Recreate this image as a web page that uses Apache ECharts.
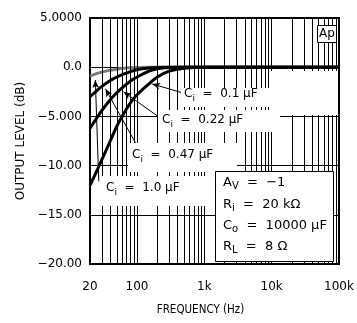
<!DOCTYPE html>
<html>
<head>
<meta charset="utf-8">
<script src="https://cdn.jsdelivr.net/npm/echarts@6/dist/echarts.min.js"></script>
<style>
  html, body { margin: 0; padding: 0; background: #fff; }
  #chart { width: 357px; height: 323px; }
</style>
</head>
<body>
<div id="chart"></div>
<script>
// frequency points (Hz) the curves were read at
const freq = [20, 25, 30, 40, 50, 60, 80, 100, 150, 200, 300, 500, 1000, 100000];
// output level (dB) for each input capacitor
const ci10 = [-0.9, -0.65, -0.5, -0.3, -0.2, -0.12, -0.05, -0.02, 0, 0, 0, 0, 0, 0];
const ci047 = [-3.0, -2.4, -1.95, -1.35, -1.0, -0.75, -0.45, -0.25, -0.08, -0.02, 0, 0, 0, 0];
const ci022 = [-6.2, -5.2, -4.4, -3.3, -2.6, -2.1, -1.4, -1.0, -0.4, -0.15, -0.03, 0, 0, 0];
const ci01 = [-12.0, -10.6, -9.4, -7.5, -6.0, -5.0, -3.6, -2.8, -1.7, -1.0, -0.4, -0.1, 0, 0];

// tick labels
const yLabels = { "5": "5.0000", "0": "0.0", "-5": "\u22125.000", "-10": "\u221210.00", "-15": "\u221215.00", "-20": "\u221220.00" };
const xLabels = { "20": "20", "100": "100", "1000": "1k", "10000": "10k", "100000": "100k" };
// vertical grid lines of the log paper
const gridFreqs = [30, 40, 50, 60, 70, 80, 90, 100, 200, 300, 400, 500, 600, 700, 800, 900, 1000,
  2000, 3000, 4000, 5000, 6000, 7000, 8000, 9000, 10000,
  20000, 30000, 40000, 50000, 60000, 70000, 80000, 90000];

const FONT = "DejaVu Sans";
const NARROW = "'DejaVu Sans Condensed', 'Liberation Sans Narrow', 'DejaVu Sans'";

const chart = echarts.init(document.getElementById("chart"));

function curve(name, vals, color) {
  return {
    name: name,
    type: "line",
    data: freq.map((f, i) => [f, vals[i]]),
    smooth: 0.25,
    showSymbol: false,
    silent: true,
    z: 3,
    lineStyle: { color: color, width: 3 }
  };
}

// arrows from the labels to the curves [from, to] in data units
const arrows = [
  [[470, -2.6], [168, -1.7]],
  [[225, -5.2], [63, -2.5]],
  [[108, -8.4], [34, -2.2]],
  [[27, -11.6], [24, -1.3]]
];

function rich(size) {
  return {
    b: { fontFamily: FONT, fontSize: size, color: "#000", lineHeight: 18 },
    s: { fontFamily: FONT, fontSize: size - 3, color: "#000", lineHeight: 8, verticalAlign: "bottom" }
  };
}

function label(x, y, txt, size) {
  return {
    type: "text",
    left: x,
    top: y,
    z: 60,
    style: { text: txt, rich: rich(size || 12), fill: "#000" }
  };
}

function whiteBox(x, y, w, h) {
  return {
    type: "rect",
    z: 50,
    shape: { x: x, y: y, width: w, height: h },
    style: { fill: "#fff" }
  };
}

chart.setOption({
  animation: false,
  backgroundColor: "#fff",
  grid: {
    left: 90, right: 18, top: 18, bottom: 59,
    show: true, borderColor: "#000", borderWidth: 2, backgroundColor: "transparent"
  },
  xAxis: {
    type: "log",
    logBase: 10,
    min: 20,
    max: 100000,
    name: "FREQUENCY (Hz)",
    nameLocation: "middle",
    nameGap: 40,
    nameTextStyle: { fontFamily: NARROW, fontSize: 11.5, color: "#000", padding: [0, 28, 0, 0] },
    axisLine: { show: false },
    axisTick: { show: false },
    splitLine: { show: false },
    axisLabel: {
      margin: 17,
      fontFamily: FONT, fontSize: 12, color: "#000",
      formatter: (v) => xLabels[String(Math.round(v))] || ""
    }
  },
  yAxis: {
    type: "value",
    min: -20,
    max: 5,
    interval: 5,
    name: "OUTPUT LEVEL (dB)",
    nameLocation: "middle",
    nameGap: 63,
    nameTextStyle: { fontFamily: FONT, fontSize: 12, color: "#000" },
    axisLine: { show: false },
    axisTick: { show: false },
    splitLine: { show: true, lineStyle: { color: "#000", width: 1 } },
    axisLabel: {
      margin: 8,
      fontFamily: FONT, fontSize: 12, color: "#000",
      formatter: (v) => yLabels[String(v)] || ""
    }
  },
  series: [
    {
      name: "grid",
      type: "line",
      data: [],
      silent: true,
      z: 1,
      markLine: {
        silent: true,
        symbol: ["none", "none"],
        label: { show: false },
        lineStyle: { color: "#000", width: 1, type: "solid" },
        data: gridFreqs.map((f) => ({ xAxis: f }))
      }
    },
    curve("Ci = 1.0 µF", ci10, "#7a7a7a"),
    curve("Ci = 0.47 µF", ci047, "#000"),
    curve("Ci = 0.22 µF", ci022, "#000"),
    curve("Ci = 0.1 µF", ci01, "#000"),
    {
      name: "arrows",
      type: "line",
      data: [],
      silent: true,
      z: 70,
      markLine: {
        silent: true,
        symbol: ["none", "arrow"],
        symbolSize: [5, 8],
        label: { show: false },
        lineStyle: { color: "#000", width: 1, type: "solid" },
        data: arrows.map((a) => [{ coord: a[0] }, { coord: a[1] }])
      }
    }
  ],
  graphic: [
    whiteBox(181, 88, 89, 19),
    whiteBox(270, 71, 68, 44),
    whiteBox(158, 110, 122, 22),
    whiteBox(128, 143, 109, 29),
    whiteBox(100, 176, 115, 30),
    label(184, 88, "{b|C}{s|i}{b|  =  0.1 µF}"),
    label(162, 114, "{b|C}{s|i}{b|  =  0.22 µF}"),
    label(132, 149, "{b|C}{s|i}{b|  =  0.47 µF}"),
    label(106, 182, "{b|C}{s|i}{b|  =  1.0 µF}"),
    {
      type: "rect", z: 55,
      shape: { x: 317.5, y: 25.5, width: 19, height: 17 },
      style: { fill: "#fff", stroke: "#000", lineWidth: 1 }
    },
    {
      type: "text", z: 60, left: 319, top: 28,
      style: { text: "Ap", fontFamily: FONT, fontSize: 12, fill: "#000" }
    },
    {
      type: "rect", z: 55,
      shape: { x: 215.5, y: 171.5, width: 118, height: 90 },
      style: { fill: "#fff", stroke: "#000", lineWidth: 1 }
    },
    label(223, 176, "{b|A}{s|V}{b|  =  \u22121}", 13),
    label(223, 198, "{b|R}{s|i}{b|  =  20 kΩ}", 13),
    label(223, 219, "{b|C}{s|o}{b|  =  10000 µF}", 13),
    label(223, 240, "{b|R}{s|L}{b|  =  8 Ω}", 13)
  ]
});
</script>
</body>
</html>
